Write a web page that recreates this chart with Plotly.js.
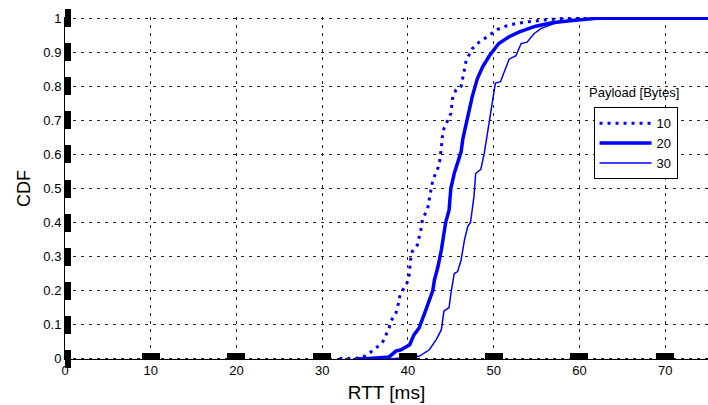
<!DOCTYPE html>
<html>
<head>
<meta charset="utf-8">
<script src="https://cdn.plot.ly/plotly-3.0.1.min.js"></script>
<style>html,body{margin:0;padding:0;background:#fff;}#chart{width:708px;height:405px;}</style>
</head>
<body>
<div id="chart"></div>
<script>
// Payload 10 Bytes
const rtt10 = [32, 34.5, 35.3, 36.5, 37.1, 37.4, 37.8, 38.0, 38.6, 38.9, 39.1, 39.8, 40.1, 40.3, 40.5, 41.1, 41.5, 41.7, 42.3, 42.5, 42.7, 42.9, 43.5, 43.7, 43.9, 44.0, 44.2, 45.0, 45.2, 45.6, 46.2, 46.4, 46.8, 47.5, 48.3, 48.9, 49.7, 50.4, 51.4, 52.6, 54.1, 56.1, 58.5, 75];
const cdf10 = [0, 0.002, 0.012, 0.036, 0.051, 0.07, 0.09, 0.11, 0.134, 0.163, 0.19, 0.217, 0.236, 0.29, 0.315, 0.334, 0.378, 0.41, 0.44, 0.47, 0.50, 0.525, 0.56, 0.58, 0.62, 0.65, 0.676, 0.72, 0.764, 0.79, 0.80, 0.828, 0.877, 0.911, 0.93, 0.94, 0.955, 0.967, 0.977, 0.985, 0.99, 0.996, 1, 1];
// Payload 20 Bytes
const rtt20 = [34, 35.1, 37.8, 38.6, 39.2, 40.2, 40.7, 41.3, 41.9, 42.5, 42.9, 43.1, 43.5, 43.9, 44.4, 44.8, 45.0, 45.4, 45.8, 46.2, 46.4, 47.1, 47.5, 48.1, 48.7, 49.5, 50.6, 51.8, 53.0, 54.9, 56.8, 59.2, 62, 75];
const cdf20 = [0, 0, 0.005, 0.022, 0.026, 0.041, 0.07, 0.09, 0.13, 0.173, 0.20, 0.232, 0.27, 0.32, 0.40, 0.437, 0.50, 0.544, 0.578, 0.608, 0.645, 0.72, 0.77, 0.823, 0.857, 0.89, 0.926, 0.946, 0.96, 0.977, 0.987, 0.994, 1, 1];
// Payload 30 Bytes
const rtt30 = [35, 38.2, 41.3, 42.5, 43.3, 43.9, 44.2, 44.8, 45.0, 45.4, 45.8, 46.2, 46.6, 47.0, 47.3, 47.7, 47.9, 48.5, 48.9, 49.3, 49.5, 50.2, 50.8, 51.4, 51.8, 52.6, 53.2, 53.9, 54.7, 55.5, 56.5, 57.6, 59.2, 62, 75];
const cdf30 = [0, 0, 0.007, 0.026, 0.056, 0.085, 0.14, 0.15, 0.19, 0.25, 0.256, 0.29, 0.35, 0.39, 0.40, 0.476, 0.544, 0.556, 0.603, 0.67, 0.69, 0.81, 0.814, 0.857, 0.88, 0.89, 0.926, 0.93, 0.955, 0.97, 0.98, 0.99, 0.996, 1, 1];

const xTicks = [0, 10, 20, 30, 40, 50, 60, 70];
const yTicks = [0, 0.1, 0.2, 0.3, 0.4, 0.5, 0.6, 0.7, 0.8, 0.9, 1];
const yTickText = ['0', '0.1', '0.2', '0.3', '0.4', '0.5', '0.6', '0.7', '0.8', '0.9', '1'];

const blue = '#0000ff';
const traces = [
  {x: rtt10, y: cdf10, name: '10', mode: 'lines', legendgroup: 'a', line: {color: blue, width: 3, dash: '3px,5px'}},
  {x: rtt20, y: cdf20, name: '20', mode: 'lines', legendgroup: 'b', line: {color: blue, width: 3.5}},
  {x: rtt30, y: cdf30, name: '30', mode: 'lines', legendgroup: 'c', line: {color: blue, width: 1.5}}
];

const font = 'Liberation Sans, Arial, sans-serif';
const yPad = 0.004;
const layout = {
  width: 708, height: 405,
  margin: {l: 65, r: 0, t: 16.64, b: 44.64},
  paper_bgcolor: '#fff', plot_bgcolor: '#fff',
  font: {family: font, size: 13, color: '#000'},
  showlegend: true,
  legend: {x: 0.822, y: 0.737, xanchor: 'left', yanchor: 'top', bgcolor: '#fff', bordercolor: '#000', borderwidth: 1,
           font: {family: font, size: 13, color: '#000'}, tracegroupgap: 0, itemwidth: 52},
  xaxis: {range: [0, 75], tickvals: xTicks, ticktext: xTicks.map(String), ticks: 'inside', ticklen: 6, tickwidth: 18, tickcolor: '#000',
          anchor: 'free', position: yPad / (1 + 2 * yPad),
          showline: true, linecolor: '#000', linewidth: 1, zeroline: false,
          showgrid: true, gridcolor: '#222', gridwidth: 1, griddash: '3px,5px',
          title: {text: 'RTT [ms]', font: {family: font, size: 19, color: '#000'}, standoff: 8}},
  yaxis: {range: [-yPad, 1 + yPad], tickvals: yTicks, ticktext: yTickText, ticks: 'inside', ticklen: 6, tickwidth: 18, tickcolor: '#000',
          showline: true, linecolor: '#000', linewidth: 1, zeroline: false,
          showgrid: true, gridcolor: '#222', gridwidth: 1, griddash: '3px,5px',
          title: {text: 'CDF', font: {family: font, size: 18, color: '#000'}, standoff: 8}},
  annotations: [{text: 'Payload [Bytes]', xref: 'paper', yref: 'paper', x: 0.885, y: 0.78, xanchor: 'center', yanchor: 'middle',
                 showarrow: false, font: {family: font, size: 13, color: '#000'}}]
};

Plotly.newPlot('chart', traces, layout, {displayModeBar: false, staticPlot: true});
</script>
</body>
</html>
